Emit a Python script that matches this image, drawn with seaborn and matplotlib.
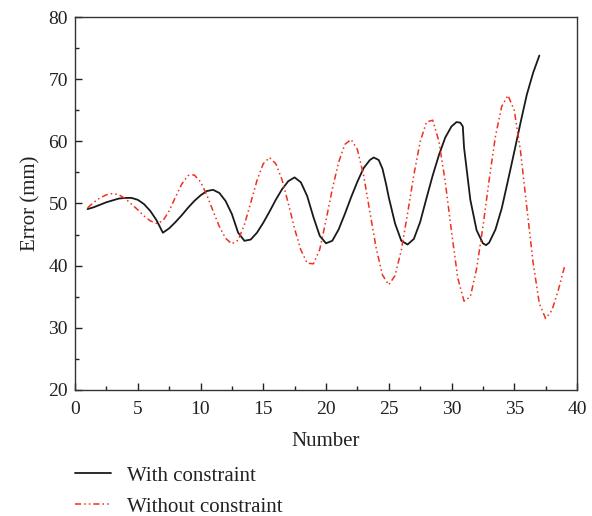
import numpy as np
import pandas as pd
import matplotlib
matplotlib.use("Agg")
import matplotlib.pyplot as plt
import seaborn as sns

# ---- data ----
x_with = [1, 1.5, 2, 2.5, 3, 3.5, 4, 4.5, 5, 5.5, 6, 6.5, 7, 7.5, 8, 8.5, 9, 9.5, 10, 10.5,
          11, 11.5, 12, 12.5, 13, 13.5, 14, 14.5, 15, 15.5, 16, 16.5, 17, 17.5, 18, 18.5, 19, 19.5,
          20, 20.5, 21, 21.5, 22, 22.5, 23, 23.5, 23.8, 24.2, 24.5, 24.8, 25, 25.5, 26, 26.5, 27, 27.5,
          28, 28.5, 29, 29.5, 30, 30.4, 30.7, 30.9, 31, 31.5, 32, 32.5, 32.75, 33, 33.5, 34, 34.5, 35, 35.5,
          36, 36.5, 37]
y_with = [49.1, 49.4, 49.8, 50.2, 50.5, 50.8, 50.9, 50.9, 50.6, 49.9, 48.8, 47.3, 45.3, 46.0,
          47.0, 48.1, 49.3, 50.4, 51.3, 52.0, 52.2, 51.7, 50.4, 48.3, 45.3, 44.0, 44.2, 45.3,
          46.9, 48.7, 50.6, 52.3, 53.6, 54.2, 53.4, 51.2, 47.8, 44.8, 43.6, 44.0, 45.8, 48.3,
          51.0, 53.5, 55.7, 57.0, 57.4, 57.0, 55.6, 53.0, 51.0, 46.8, 44.0, 43.4, 44.3, 47.0, 50.8,
          54.5, 57.8, 60.6, 62.4, 63.1, 63.0, 62.4, 59.0, 50.6, 45.7, 43.6, 43.3, 43.7, 45.8, 49.2, 53.7,
          58.3, 63.0, 67.5, 71.0, 73.8]

x_without = [1, 1.5, 2, 2.5, 3, 3.5, 4, 4.5, 5, 5.5, 6, 6.5, 7, 7.5, 8, 8.5, 9, 9.5, 10, 10.5,
             11, 11.5, 12, 12.5, 13, 13.5, 14, 14.5, 15, 15.5, 16, 16.5, 17, 17.5, 18, 18.5, 19,
             19.5, 20, 20.5, 21, 21.5, 22, 22.5, 23, 23.5, 24, 24.5, 25, 25.5, 26, 26.5, 27, 27.5,
             28, 28.5, 29, 29.5, 30, 30.5, 31, 31.5, 32, 32.5, 33, 33.5, 34, 34.5, 35, 35.5, 36,
             36.5, 37, 37.5, 38, 38.5, 39]
y_without = [49.3, 50.2, 50.9, 51.4, 51.6, 51.4, 50.8, 49.9, 49.0, 48.0, 47.2, 46.8, 47.2, 48.8,
             51.0, 53.1, 54.5, 54.6, 53.5, 51.4, 48.8, 46.3, 44.4, 43.5, 44.1, 46.6, 50.1, 53.7,
             56.4, 57.4, 56.4, 53.8, 50.0, 45.9, 42.5, 40.4, 40.3, 42.6, 47.3, 52.3, 56.6, 59.5,
             60.3, 58.7, 54.5, 48.6, 42.8, 38.5, 36.9, 38.4, 42.5, 48.4, 54.6, 59.9, 63.1, 63.4,
             60.0, 53.5, 45.5, 38.0, 34.3, 35.0, 39.5, 46.2, 53.8, 60.8, 65.6, 67.4, 65.0, 58.4,
             49.4, 40.5, 33.9, 31.5, 32.8, 36.0, 39.8]

labels = ["With constraint", "Without constraint"]
xticks = [0, 5, 10, 15, 20, 25, 30, 35, 40]
yticks = [20, 30, 40, 50, 60, 70, 80]

df_with = pd.DataFrame({"Number": x_with, "Error": y_with})
df_without = pd.DataFrame({"Number": x_without, "Error": y_without})

sns.set_theme(style="ticks")
plt.rcParams["font.family"] = ["Liberation Serif", "DejaVu Serif"]
plt.rcParams["font.size"] = 14

fig = plt.figure(figsize=(5.92, 5.16), dpi=100)
ax = fig.add_axes([75 / 592, 1 - 390 / 516, (577 - 75) / 592, (390 - 17) / 516])

sns.lineplot(data=df_with, x="Number", y="Error", ax=ax, color="#1a1a1a",
             linewidth=1.3, label=labels[0], sort=False,
             solid_joinstyle="round", solid_capstyle="round")
sns.lineplot(data=df_without, x="Number", y="Error", ax=ax, color="#f0301c",
             linewidth=1.1, label=labels[1], sort=False,
             linestyle=(0, (4, 2, 1, 2, 1, 2)))

ax.set_xlim(0, 40)
ax.set_ylim(20, 80)
ax.set_xticks(xticks)
ax.set_yticks(yticks)
ax.set_xticks(np.arange(2.5, 40, 5), minor=True)
ax.set_yticks(np.arange(25, 80, 10), minor=True)
ax.tick_params(axis="both", which="major", direction="in", length=5, width=1,
               labelsize=14, colors="#222222")
ax.tick_params(axis="x", which="major", pad=8)
ax.tick_params(axis="y", which="major", pad=5)
ax.tick_params(axis="both", which="minor", direction="in", length=3, width=1,
               colors="#222222")
for s in ax.spines.values():
    s.set_linewidth(1.0)
    s.set_color("#333333")
    s.set_visible(True)

ax.set_xlabel("Number", fontsize=15, color="#222222", labelpad=10)
ax.set_ylabel("Error (mm)", fontsize=15, color="#222222", labelpad=6)

handles, labs = ax.get_legend_handles_labels()
ax.get_legend().remove()
fig.legend(handles, labs, loc="upper left", bbox_to_anchor=(75 / 592, 1 - 466 / 516),
           frameon=False, fontsize=15, handlelength=1.75, handletextpad=0.75,
           labelspacing=0.55, borderpad=0, borderaxespad=0, labelcolor="#222222")

fig.savefig("out.png", dpi=100)
